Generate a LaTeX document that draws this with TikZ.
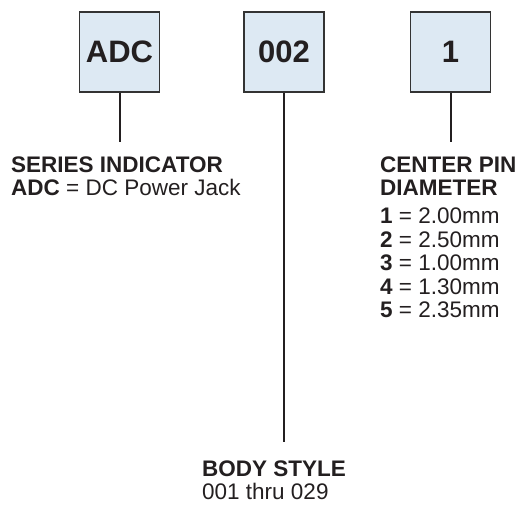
\documentclass[tikz,border=0pt]{standalone}
\usepackage{fontspec}
\setmainfont{Liberation Sans}
\usetikzlibrary{positioning}
\definecolor{boxblue}{HTML}{DDE9F3}
\definecolor{ink}{HTML}{231F20}

\begin{document}
\begin{tikzpicture}[
  x=1pt, y=-1pt,
  code/.style={rectangle, draw=black!80, line width=1.2pt, fill=boxblue, minimum size=80pt, inner sep=0pt, text=ink, font=\fontsize{31}{31}\selectfont\bfseries},
  lbl/.style={anchor=base west, inner sep=0pt, text=ink, font=\fontsize{22.5}{23.5}\selectfont},
  lead/.style={draw=ink, line width=2pt}
]
\useasboundingbox (0,0) rectangle (516,504);

\node[code] (adc)  at (119.5,52) {ADC};
\node[code] (body) at (284,52)   {002};
\node[code] (pin)  at (450.5,52) {1};

\coordinate (adcend)  at (119.5,142);
\coordinate (bodyend) at (284,442);
\coordinate (pinend)  at (450.5,142);

\draw[lead] (adc.south)  -- (adcend);
\draw[lead] (body.south) -- (bodyend);
\draw[lead] (pin.south)  -- (pinend);

\node[lbl] (series)    at (11,172)    {\textbf{SERIES INDICATOR}};
\node[lbl] (seriesval) at (11,195.5)  {\textbf{ADC} = DC Power Jack};

\node[lbl] (pinhead)  at (380,172)   {\textbf{CENTER PIN}};
\node[lbl] (pinhead2) at (380,195.5) {\textbf{DIAMETER}};
\foreach \n/\d [count=\i] in {1/2.00, 2/2.50, 3/1.00, 4/1.30, 5/2.35}
  \node[lbl] (dia\n) at (380,{200+23.5*\i}) {\textbf{\n} = \d mm};

\node[lbl] (bodyhead) at (202,476) {\textbf{BODY STYLE}};
\node[lbl] (bodyval)  at (202,499) {001 thru 029};
\end{tikzpicture}
\end{document}
